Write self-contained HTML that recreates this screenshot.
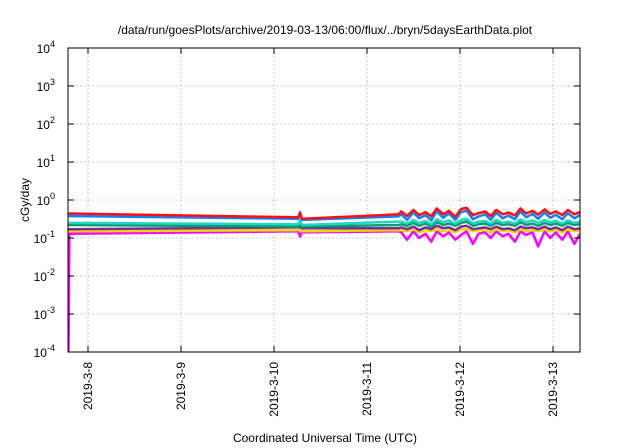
<!DOCTYPE html>
<html><head><meta charset="utf-8"><style>
html,body{margin:0;padding:0;background:#fff}
svg{display:block;font-family:"Liberation Sans",sans-serif}
</style></head><body>
<svg id="c" width="640" height="448" viewBox="0 0 640 448">
<defs><clipPath id="pc"><rect x="68" y="48" width="512" height="304"/></clipPath></defs>
<text x="325" y="34" font-size="12" text-anchor="middle">/data/run/goesPlots/archive/2019-03-13/06:00/flux/../bryn/5daysEarthData.plot</text>
<text x="325" y="442" font-size="12" text-anchor="middle">Coordinated Universal Time (UTC)</text>
<text transform="translate(29,200) rotate(-90)" font-size="12" text-anchor="middle">cGy/day</text>
<g id="grid"></g>
<g id="series" clip-path="url(#pc)"></g>
<rect x="68" y="48" width="512" height="304" fill="none" stroke="#000" stroke-width="1"/>
<g id="axes"></g>
</svg>
<script>
const xTickDays=[1,2,3,4,5,6];
const xTickLabels=["2019-3-8","2019-3-9","2019-3-10","2019-3-11","2019-3-12","2019-3-13"];
const yTickExps=[-4,-3,-2,-1,0,1,2,3,4];
const times=[0.79,0.80,3.26,3.28,3.30,4.34,4.37,4.43,4.50,4.56,4.63,4.69,4.75,4.82,4.88,4.95,5.01,5.07,5.14,5.20,5.27,5.33,5.39,5.46,5.52,5.59,5.65,5.71,5.78,5.84,5.91,5.97,6.03,6.10,6.16,6.23,6.29];
const magenta=[0.0001,0.13,0.15,0.11,0.14,0.15,0.14,0.09,0.15,0.1,0.13,0.08,0.15,0.11,0.14,0.09,0.12,0.15,0.07,0.13,0.14,0.1,0.15,0.11,0.13,0.08,0.15,0.12,0.14,0.06,0.15,0.1,0.14,0.09,0.15,0.07,0.13];
const yellow=[0.15,0.15,0.16,0.17,0.15,0.16,0.16,0.15,0.17,0.14,0.16,0.15,0.17,0.15,0.16,0.14,0.17,0.17,0.15,0.16,0.16,0.14,0.17,0.15,0.16,0.14,0.17,0.15,0.16,0.15,0.17,0.15,0.16,0.14,0.17,0.15,0.16];
const purple=[0.17,0.17,0.19,0.2,0.18,0.18,0.19,0.17,0.2,0.16,0.19,0.17,0.21,0.18,0.19,0.16,0.2,0.21,0.17,0.18,0.19,0.17,0.2,0.17,0.18,0.16,0.2,0.18,0.19,0.17,0.2,0.17,0.19,0.16,0.2,0.17,0.18];
const green=[0.22,0.22,0.2,0.22,0.2,0.22,0.23,0.21,0.25,0.21,0.24,0.2,0.26,0.22,0.24,0.21,0.25,0.27,0.21,0.23,0.24,0.21,0.25,0.22,0.23,0.21,0.26,0.22,0.24,0.21,0.25,0.22,0.24,0.21,0.25,0.22,0.23];
const cyan=[0.25,0.25,0.23,0.3,0.22,0.27,0.27,0.24,0.3,0.25,0.28,0.23,0.31,0.26,0.29,0.24,0.3,0.32,0.24,0.27,0.28,0.24,0.3,0.25,0.27,0.24,0.31,0.26,0.29,0.25,0.3,0.26,0.28,0.24,0.29,0.25,0.27];
const blue=[0.36,0.38,0.32,0.48,0.3,0.37,0.42,0.3,0.47,0.33,0.4,0.29,0.5,0.34,0.44,0.3,0.48,0.52,0.31,0.37,0.42,0.3,0.46,0.33,0.39,0.31,0.5,0.35,0.43,0.32,0.47,0.34,0.41,0.31,0.45,0.33,0.4];
const red=[0.42,0.44,0.35,0.45,0.32,0.42,0.5,0.38,0.55,0.4,0.48,0.37,0.6,0.42,0.52,0.36,0.58,0.62,0.4,0.45,0.5,0.38,0.55,0.42,0.47,0.39,0.6,0.44,0.52,0.41,0.57,0.43,0.5,0.4,0.55,0.42,0.48];
const seriesNames=["magenta","yellow","purple","green","cyan","blue","red"];
const seriesValues=[magenta,yellow,purple,green,cyan,blue,red];
const seriesColors=["#ff00ff","#e8d800","#7a2a9a","#009e73","#20d8c0","#1080ff","#ff1010"];
const NS="http://www.w3.org/2000/svg";
const X0=68,X1=580,Y0=48,Y1=352,T0=0.785,T1=6.29;
function xs(t){return X0+(t-T0)/(T1-T0)*(X1-X0);}
function ys(v){const l=Math.log10(v);return Y1-(l+4)/8*(Y1-Y0);}
const grid=document.getElementById('grid'),axes=document.getElementById('axes'),ser=document.getElementById('series');
function mk(tag,attrs,parent){const e=document.createElementNS(NS,tag);for(const k in attrs)e.setAttribute(k,attrs[k]);parent.appendChild(e);return e;}
xTickDays.forEach((d,i)=>{
  const x=xs(d);
  const g=mk('line',{x1:x,x2:x,y1:Y0,y2:Y1,stroke:'#bbb','stroke-dasharray':'2,2','stroke-width':0.8},grid);
  
  
  const t1=mk('line',{x1:x,x2:x,y1:Y1,y2:Y1-6,stroke:'#000'},axes);
  
  
  const t2=mk('line',{x1:x,x2:x,y1:Y0,y2:Y0+6,stroke:'#000'},axes);
  
  
  const lb=mk('text',{transform:`translate(${x+4},362) rotate(-90)`,'font-size':12,'text-anchor':'end'},axes);
  lb.textContent=xTickLabels[i];
  
  
});
yTickExps.forEach(e=>{
  const y=ys(Math.pow(10,e));
  if(e>-4&&e<4){const g=mk('line',{x1:X0,x2:X1,y1:y,y2:y,stroke:'#bbb','stroke-dasharray':'2,2','stroke-width':0.8},grid);
  
  }
  const t1=mk('line',{x1:X0,x2:X0+6,y1:y,y2:y,stroke:'#000'},axes);
  
  
  const t2=mk('line',{x1:X1,x2:X1-6,y1:y,y2:y,stroke:'#000'},axes);
  
  
  const lb=mk('text',{x:55,y:y+5,'font-size':12,'text-anchor':'end'},axes);
  
  
  lb.textContent='10';
  const sp=mk('tspan',{dy:-6,'font-size':9},lb);sp.textContent=String(e);
});
seriesValues.forEach((vals,i)=>{
  const d=vals.map((v,j)=>(j?'L':'M')+xs(times[j]).toFixed(1)+','+ys(v).toFixed(1)).join('');
  const p=mk('path',{d:d,fill:'none',stroke:seriesColors[i],'stroke-width':2.5,'stroke-linejoin':'round'},ser);
  
  
});
</script>
</body></html>
